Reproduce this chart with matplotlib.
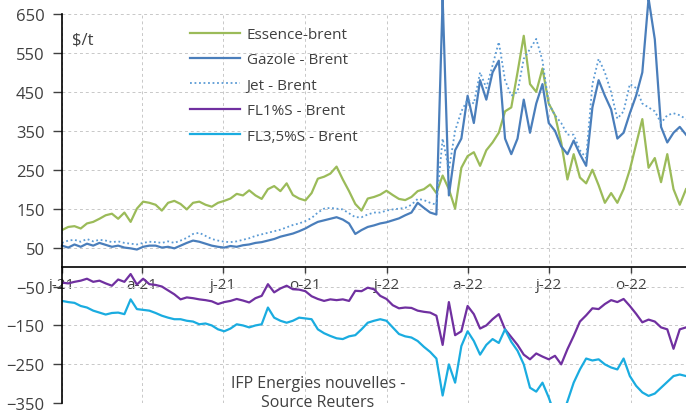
import matplotlib.pyplot as plt
import pandas as pd

# weekly readings, Jan 2021 -> early Dec 2022, in $/t
weeks = pd.date_range('2021-01-01', periods=101, freq='7D')

essence = [95, 103, 105, 99, 112, 116, 124, 133, 137, 124, 140, 116, 150, 168, 165,
           160, 145, 165, 170, 162, 148, 165, 168, 160, 155, 165, 170, 176, 188, 184,
           197, 184, 175, 200, 208, 195, 215, 185, 176, 171, 190, 227, 232, 240, 258,
           225, 195, 162, 145, 176, 180, 186, 196, 185, 175, 172, 180, 195, 200, 212,
           190, 235, 200, 150, 255, 285, 295, 260, 300, 320, 345, 400, 410, 500, 594,
           470, 450, 510, 420, 390, 320, 225, 290, 230, 215, 250, 210, 165, 190, 165,
           200, 250, 315, 380, 255, 280, 218, 290, 200, 160, 200]

gazole = [55, 50, 58, 52, 60, 55, 62, 57, 52, 55, 50, 48, 45, 52, 55,
          55, 50, 52, 48, 55, 62, 68, 65, 60, 55, 52, 50, 54, 52, 56,
          58, 62, 64, 68, 72, 78, 82, 86, 92, 99, 108, 116, 120, 124, 128,
          122, 112, 85, 95, 103, 107, 112, 115, 120, 125, 133, 140, 165, 152, 140,
          135, 690, 184, 300, 330, 440, 370, 480, 430, 500, 530, 330, 290, 330, 430,
          345, 420, 470, 370, 350, 310, 290, 325, 290, 260, 410, 480, 440, 405, 330,
          345, 395, 440, 500, 690, 585, 360, 320, 345, 360, 340]

jet = [62, 68, 70, 65, 72, 66, 70, 68, 64, 66, 62, 60, 58, 62, 65,
       64, 62, 66, 62, 68, 75, 85, 88, 80, 72, 68, 65, 64, 66, 70,
       74, 80, 84, 88, 92, 96, 102, 108, 112, 118, 126, 140, 150, 152, 150,
       148, 138, 128, 128, 135, 140, 140, 145, 148, 150, 152, 160, 175, 172, 165,
       160, 330, 250, 350, 400, 430, 420, 500, 460, 518, 578, 480, 440, 450, 535,
       560, 586, 530, 420, 390, 370, 340, 340, 300, 280, 470, 535, 500, 449, 381,
       400, 470, 460, 420, 410, 400, 370, 390, 395, 390, 380]

fl1 = [-40, -42, -38, -35, -30, -38, -35, -42, -48, -32, -38, -18, -45, -30, -44,
       -46, -50, -60, -70, -83, -78, -80, -83, -85, -88, -95, -90, -87, -82, -86,
       -91, -80, -74, -44, -65, -55, -48, -57, -58, -62, -75, -82, -87, -83, -85,
       -83, -87, -61, -62, -53, -57, -74, -82, -98, -106, -104, -105, -112, -115, -117,
       -125, -200, -90, -175, -165, -100, -121, -158, -150, -134, -121, -160, -180, -200, -225,
       -237, -222, -230, -237, -228, -250, -211, -177, -140, -124, -106, -108, -95, -85, -90,
       -82, -100, -120, -142, -135, -140, -155, -160, -210, -160, -155]

fl35 = [-87, -90, -92, -100, -104, -112, -117, -122, -118, -117, -121, -83, -108, -110, -112,
        -118, -125, -130, -134, -134, -138, -140, -147, -145, -150, -160, -165, -158, -147, -150,
        -155, -150, -147, -104, -130, -138, -143, -138, -130, -132, -134, -160, -170, -177, -183,
        -185, -178, -175, -160, -143, -138, -134, -138, -155, -172, -178, -181, -190, -205, -218,
        -235, -330, -250, -297, -203, -165, -190, -225, -200, -185, -195, -160, -192, -215, -250,
        -310, -320, -297, -335, -380, -390, -345, -297, -263, -235, -240, -237, -250, -258, -263,
        -235, -280, -305, -322, -331, -325, -310, -295, -280, -276, -280]

tick_labels = ['j-21', 'a-21', 'j-21', 'o-21', 'j-22', 'a-22', 'j-22', 'o-22']

plt.rcParams['font.family'] = 'Open Sans'

fig = plt.figure(figsize=(6.86, 4.14), dpi=100)
ax = fig.add_axes([62 / 686, 9.7 / 414, 1 - 62 / 686, 389.3 / 414])

ax.plot(weeks, essence, color='#9BBB59', lw=1.6, label='Essence-brent')
ax.plot(weeks, gazole, color='#4A7EBB', lw=1.6, label='Gazole - Brent', clip_on=False)
ax.plot(weeks, jet, color='#5B9BD5', lw=1.3, ls=(0, (1, 1.5)), label='Jet - Brent')
ax.plot(weeks, fl1, color='#7030A0', lw=1.6, label='FL1%S - Brent')
ax.plot(weeks, fl35, color='#1AACE0', lw=1.6, label='FL3,5%S - Brent')

ax.set_ylim(-350, 650)
ax.set_yticks(range(-350, 651, 100))
ax.set_xlim(weeks[0], weeks[-1])
ax.set_xticks(pd.date_range('2021-01-01', '2022-10-01', freq='QS'))
ax.set_xticklabels(tick_labels, rotation=90)

ax.spines['bottom'].set_position(('data', 0))
ax.spines[['top', 'right']].set_visible(False)
ax.spines[['left', 'bottom']].set_linewidth(1.2)
ax.set_axisbelow(True)
ax.grid(True, color='#c8c8c8', ls=(0, (3, 3)), lw=0.7)
ax.tick_params(axis='y', length=6.5, width=1, pad=6, labelsize=12, colors='#404040')
ax.tick_params(axis='x', length=4, width=1, pad=3, labelsize=11, colors='#404040')

ax.legend(loc='upper left', bbox_to_anchor=(190 / 686, 1 - 28 / 414),
          bbox_transform=fig.transFigure, frameon=False, fontsize=11,
          handlelength=3.3, handletextpad=0.4, labelspacing=0.68,
          borderpad=0, borderaxespad=0, labelcolor='#404040')

fig.text(72 / 686, 1 - 40 / 414, r'\$/t', fontsize=12, va='center', color='#404040')
fig.text(318 / 686, 1 - 384 / 414, 'IFP Energies nouvelles -', ha='center',
         va='center', fontsize=11.5, color='#404040')
fig.text(318 / 686, 1 - 403 / 414, 'Source Reuters', ha='center',
         va='center', fontsize=11.5, color='#404040')

plt.savefig('out.png', dpi=100)
